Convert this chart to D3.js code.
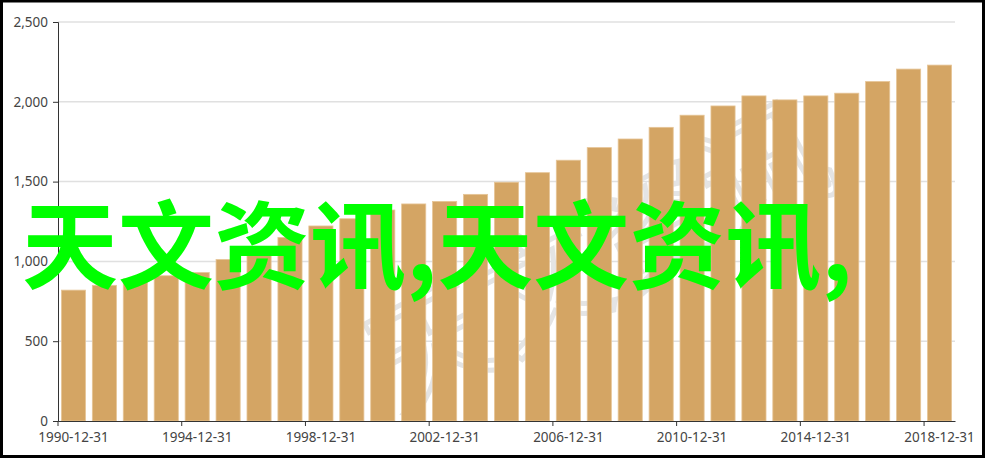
<!DOCTYPE html>
<html>
<head>
<meta charset="utf-8">
<script src="https://cdn.jsdelivr.net/npm/d3@7"></script>
<style>
  html, body { margin: 0; padding: 0; background: #fff; }
  svg { display: block; }
  .axis text { font-family: "Noto Sans", "Open Sans", sans-serif; font-size: 13.5px; fill: #444; }
  .axis path, .axis line { stroke: #333; }
</style>
</head>
<body>
<svg width="985" height="458"></svg>
<script>
// Data
var years = ["1990","1991","1992","1993","1994","1995","1996","1997","1998","1999",
             "2000","2001","2002","2003","2004","2005","2006","2007","2008","2009",
             "2010","2011","2012","2013","2014","2015","2016","2017","2018"];
var values = [820, 850, 890, 910, 930, 1012, 1067, 1150, 1222, 1267,
              1322, 1360, 1376, 1420, 1496, 1556, 1634, 1713, 1767, 1840,
              1916, 1974, 2037, 2012, 2037, 2054, 2127, 2205, 2230];
var yTicks = [0, 500, 1000, 1500, 2000, 2500];
var labelEvery = 4;
var overlayText = "天文资讯,天文资讯,";
var watermarkText = "天文资讯";

// Layout
var width = 985, height = 458
  , margin = { left: 58, right: 30, top: 22, bottom: 37 }
  , innerW = width - margin.left - margin.right
  , innerH = height - margin.top - margin.bottom
  , barFill = "#d4a564"
  , barStroke = "#e6c597"
;

var svg = d3.select("svg");

// Frame
svg.append("rect")
    .attr("x", 1.5).attr("y", 1).attr("width", width - 3).attr("height", height - 2.5)
    .attr("fill", "#fff").attr("stroke", "#000").attr("stroke-width", 3);

svg.append("clipPath").attr("id", "plot")
  .append("rect")
    .attr("x", margin.left).attr("y", margin.top)
    .attr("width", innerW).attr("height", innerH);

var g = svg.append("g").attr("transform", "translate(" + [margin.left, margin.top] + ")");

// Scales
var cat = d3.scaleBand().domain(years).range([0, innerW]).padding(0);
var x = d3.scaleBand().domain(years).range([0, innerW]).paddingInner(0.22).paddingOuter(0.11);
var y = d3.scaleLinear().domain([0, 2500]).range([innerH, 0]);

// Grid lines
g.append("g")
  .selectAll("line")
  .data(yTicks.slice(1))
  .join("line")
    .attr("x1", 0).attr("x2", innerW)
    .attr("y1", function (d) { return y(d); })
    .attr("y2", function (d) { return y(d); })
    .attr("stroke", "#e0e0e0").attr("stroke-width", 1.5);

// Faint watermark behind the bars, kept inside the plot
svg.append("g").attr("clip-path", "url(#plot)")
  .append("text")
    .attr("transform", "translate(" + (margin.left + 545) + "," + (margin.top + 245) + ") rotate(-28)")
    .attr("text-anchor", "middle")
    .attr("dominant-baseline", "middle")
    .attr("font-family", "Noto Sans CJK SC")
    .attr("font-size", 125)
    .attr("fill", "none")
    .attr("stroke", "#e4e4e4")
    .attr("stroke-width", 5)
    .text(watermarkText);

// Bars
svg.append("g")
    .attr("transform", "translate(" + [margin.left, margin.top] + ")")
  .selectAll("rect")
  .data(values)
  .join("rect")
    .attr("x", function (d, i) { return x(years[i]); })
    .attr("y", function (d) { return y(d); })
    .attr("width", x.bandwidth())
    .attr("height", function (d) { return innerH - y(d); })
    .attr("fill", barFill)
    .attr("stroke", barStroke)
    .attr("stroke-width", 0.8);

var axes = svg.append("g").attr("transform", "translate(" + [margin.left, margin.top] + ")");

// Y axis
axes.append("g")
    .attr("class", "axis")
    .call(d3.axisLeft(y).tickValues(yTicks).tickFormat(d3.format(",")).tickSize(5).tickPadding(5));

// X axis: ticks on category boundaries, labels centred on the bars
var xAxisG = axes.append("g")
    .attr("class", "axis")
    .attr("transform", "translate(0," + innerH + ")")
    .call(d3.axisBottom(cat)
        .tickValues(years.filter(function (d, i) { return i % labelEvery === 0; }))
        .tickFormat(function (d) { return d + "-12-31"; })
        .tickSize(5).tickSizeOuter(0).tickPadding(6));
xAxisG.selectAll(".tick line")
    .attr("x1", -cat.step() / 2).attr("x2", -cat.step() / 2);
xAxisG.select(".domain").attr("stroke", "#555");

// Big green overlay text
svg.append("text")
    .attr("x", 22)
    .attr("y", 281)
    .attr("font-family", "Noto Sans CJK SC")
    .attr("font-weight", 700)
    .attr("font-size", 96)
    .attr("fill", "#00ff00")
    .text(overlayText);
</script>
</body>
</html>
